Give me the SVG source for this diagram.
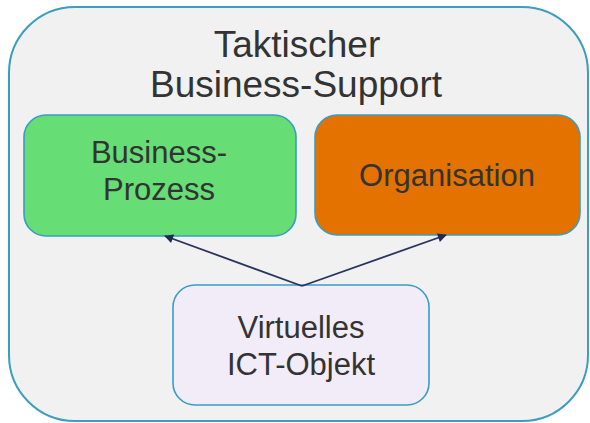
<svg xmlns="http://www.w3.org/2000/svg" width="590" height="423" viewBox="0 0 590 423">
<defs>
<style>
.box{stroke:#3a9dc1;stroke-width:1.6}
.t{font-family:"Liberation Sans",Arial,sans-serif;fill:#333333;text-anchor:middle}
.edge{stroke:#27345e;stroke-width:1.8;fill:none;marker-end:url(#ah)}
</style>
<marker id="ah" viewBox="0 0 10 10" refX="9" refY="5" markerWidth="10" markerHeight="9" markerUnits="userSpaceOnUse" orient="auto">
<path d="M0,0 L10,5 L0,10 z" fill="#1f2b55"/>
</marker>
</defs>
<rect width="590" height="423" fill="#ffffff"/>
<g id="container">
<rect x="9" y="7" width="579" height="414" rx="66" ry="66" fill="#f1f1f1" stroke="#3a9dc1" stroke-width="2"/>
<text class="t" x="297" y="57" font-size="37">Taktischer</text>
<text class="t" x="296" y="97" font-size="37">Business-Support</text>
</g>
<g id="business-prozess">
<rect class="box" x="24" y="115" width="272" height="121" rx="22" fill="#66dd75"/>
<text class="t" x="159" y="163" font-size="31">Business-</text>
<text class="t" x="159" y="200" font-size="31">Prozess</text>
</g>
<g id="organisation">
<rect class="box" x="315" y="115" width="265" height="120" rx="22" fill="#e37200"/>
<text class="t" x="447" y="186" font-size="31">Organisation</text>
</g>
<g id="virtuelles-ict-objekt">
<rect class="box" x="173" y="285" width="256" height="120" rx="22" fill="#f2ecf8"/>
<text class="t" x="301" y="338" font-size="31">Virtuelles</text>
<text class="t" x="301" y="375" font-size="31">ICT-Objekt</text>
</g>
<g id="connectors">
<line class="edge" x1="302" y1="286" x2="165" y2="236"/>
<line class="edge" x1="302" y1="286" x2="446" y2="235"/>
</g>
</svg>
